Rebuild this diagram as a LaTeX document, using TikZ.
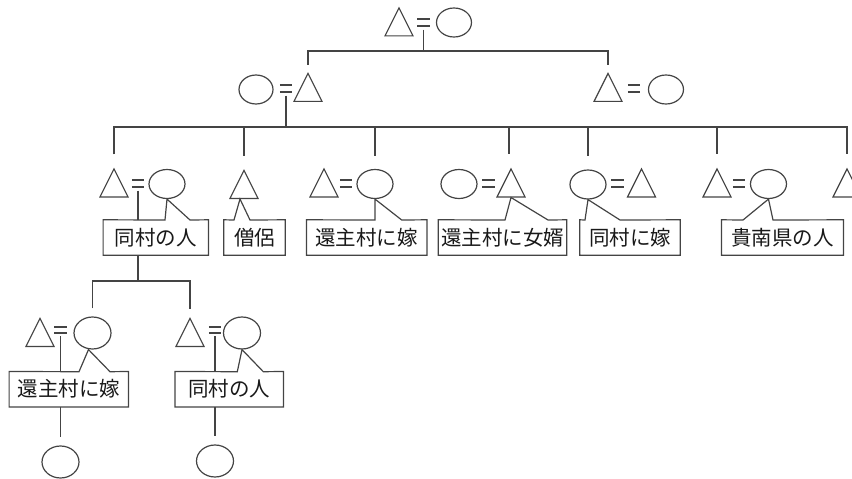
\documentclass[tikz,border=0pt]{standalone}
\usepackage{fontspec}
\newfontfamily\jp{Noto Sans CJK JP}
\usetikzlibrary{shapes.geometric,calc}
\definecolor{ln}{RGB}{68,68,68}
\begin{document}
\begin{tikzpicture}[x=1pt,y=-1pt,
  lin/.style={draw=ln,line width=1.2pt},
  tri/.style={isosceles triangle,isosceles triangle stretches,shape border rotate=90,
    minimum width=28pt,minimum height=28pt,inner sep=0pt,draw=ln,line width=1.2pt,fill=white,anchor=south},
  ell/.style={ellipse,minimum width=36pt,minimum height=29pt,inner sep=0pt,draw=ln,line width=1.2pt,fill=white},
  ellb/.style={ell,minimum width=37pt,minimum height=32pt},
  eqline/.style={draw=ln,line width=1.9pt},
  eqs/.style={inner sep=0pt,minimum width=12pt,minimum height=6pt,
    append after command={(\tikzlastnode.north west) edge[eqline] (\tikzlastnode.north east)
      (\tikzlastnode.south west) edge[eqline] (\tikzlastnode.south east)}},
  lbl/.style={inner sep=0pt,minimum height=35pt,font=\jp\fontsize{20.5}{20.5}\selectfont,text=black!90},
  boxline/.style={draw=ln,line width=1.2pt}
]
\useasboundingbox (0,0) rectangle (852,479);
\clip (0,0) rectangle (852,479);

% ---------- generation 1
\node[tri] (t1) at (399,36.5) {};
\node[eqs] (e1) at (423.5,22.5) {};
\node[ell,minimum width=35pt] (c1) at (454,22.5) {};

% ---------- generation 2
\node[ell,minimum width=34pt] (c21) at (256,89.5) {};
\node[eqs] (e21) at (286,88.5) {};
\node[tri] (t21) at (308,102) {};
\node[tri] (t22) at (608,102) {};
\node[eqs] (e22) at (634,88.5) {};
\node[ell,minimum width=35pt] (c22) at (666,89.5) {};

% ---------- generation 3
\node[tri] (t31) at (114,197.5) {};
\node[eqs] (e31) at (138,183.5) {};
\node[ell] (c31) at (167,184) {};

\node[tri] (t32) at (244,199) {};

\node[tri] (t33) at (324,197.5) {};
\node[eqs] (e33) at (346,183.5) {};
\node[ell] (c33) at (375,184) {};

\node[ell] (c34) at (459,184) {};
\node[eqs] (e34) at (488.5,183.5) {};
\node[tri] (t34) at (511,197.5) {};

\node[ell] (c35) at (588,184.5) {};
\node[eqs] (e35) at (617.5,183.5) {};
\node[tri] (t35) at (641.5,197.5) {};

\node[tri] (t36) at (717,197.5) {};
\node[eqs] (e36) at (739,183.5) {};
\node[ell] (c36) at (768.5,184) {};

\node[tri] (t37) at (847,197.5) {};

% labels generation 3
\node[lbl,minimum width=105pt] (b31) at (155.8,237.5) {同村の人};
\node[lbl,minimum width=61pt] (b32) at (254.5,237.5) {僧侶};
\node[lbl,minimum width=120pt] (b33) at (366.7,237.5) {還主村に嫁};
\node[lbl,minimum width=128pt] (b34) at (502.5,237.5) {還主村に女婿};
\node[lbl,minimum width=100pt] (b35) at (630,237.5) {同村に嫁};
\node[lbl,minimum width=121.6pt] (b36) at (782.5,237.5) {貴南県の人};

% ---------- generation 4
\node[tri] (t41) at (40,347) {};
\node[eqs] (e41) at (60.5,330) {};
\node[ellb] (c41) at (92.5,333) {};

\node[tri] (t42) at (190,347) {};
\node[eqs] (e42) at (215,330) {};
\node[ellb] (c42) at (242,333) {};

\node[lbl,minimum width=119pt] (b41) at (68.8,389.2) {還主村に嫁};
\node[lbl,minimum width=108pt] (b42) at (229.2,389.2) {同村の人};

% ---------- generation 5
\node[ellb] (c51) at (60.5,462) {};
\node[ellb] (c52) at (215,461) {};

% ---------- label outlines with pointers
\draw[boxline] (b31.north west) -- (165,220) -- (c31.south) -- (190,220) -- (b31.north east) -- (b31.south east) -- (b31.south west) -- cycle;
\draw[boxline] (b32.north west) -- (234,220) -- ([xshift=-4pt]t32.south) -- (250,220) -- (b32.north east) -- (b32.south east) -- (b32.south west) -- cycle;
\draw[boxline] (b33.north west) -- (375,220) -- (c33.south) -- (401.7,220) -- (b33.north east) -- (b33.south east) -- (b33.south west) -- cycle;
\draw[boxline] (b34.north west) -- (505,220) -- (t34.south) -- (548,220) -- (b34.north east) -- (b34.south east) -- (b34.south west) -- cycle;
\draw[boxline] (b35.north west) -- (585,220) -- (c35.south) -- (620,220) -- (b35.north east) -- (b35.south east) -- (b35.south west) -- cycle;
\draw[boxline] (b36.north west) -- (743,220) -- (c36.south) -- (773,220) -- (b36.north east) -- (b36.south east) -- (b36.south west) -- cycle;
\draw[boxline] (b41.north west) -- (79,371.7) -- ([xshift=-4pt]c41.south) -- (110,371.7) -- (b41.north east) -- (b41.south east) -- (b41.south west) -- cycle;
\draw[boxline] (b42.north west) -- (237.3,371.7) -- (c42.south) -- (263.3,371.7) -- (b42.north east) -- (b42.south east) -- (b42.south west) -- cycle;

% ---------- descent lines
\coordinate (bar1) at (0,51);
\coordinate (bar2) at (0,127);
\coordinate (bar3) at (0,281);

\draw[lin] ([yshift=-4pt]e1.south) -- (e1 |- bar1);
\draw[lin] ([yshift=7pt]t21.north) -- (t21.north |- bar1) -- (t22.north |- bar1) -- ([yshift=7pt]t22.north);

\draw[lin] ([yshift=-4pt]e21.south) -- (e21 |- bar2);
\draw[lin] ([yshift=13pt]t31.north) -- (t31.north |- bar2) -- (t37.north |- bar2) -- ([yshift=13pt]t37.north);
\foreach \n in {t32,c33,c35,t36}
  \draw[lin] (\n.north |- bar2) -- ([yshift=13pt]\n.north);
\draw[lin] ([xshift=-2pt]t34.north |- bar2) -- ([xshift=-2pt,yshift=13pt]t34.north);

\draw[lin] ([yshift=-4pt]e31.south) -- (e31 |- b31.north);
\draw[lin] (e31 |- b31.south) -- (e31 |- bar3);
\draw[lin] ([yshift=8pt]c41.north) -- (c41.north |- bar3) -- (t42.north |- bar3) -- ([yshift=8pt]t42.north);

\draw[lin] ([yshift=-3pt]e41.south) -- (e41 |- b41.north);
\draw[lin] (e41 |- b41.south) -- ([yshift=8pt]c51.north);
\draw[lin] ([yshift=-3pt]e42.south) -- (e42 |- b42.north);
\draw[lin] (e42 |- b42.south) -- ([yshift=8pt]c52.north);
\end{tikzpicture}
\end{document}
